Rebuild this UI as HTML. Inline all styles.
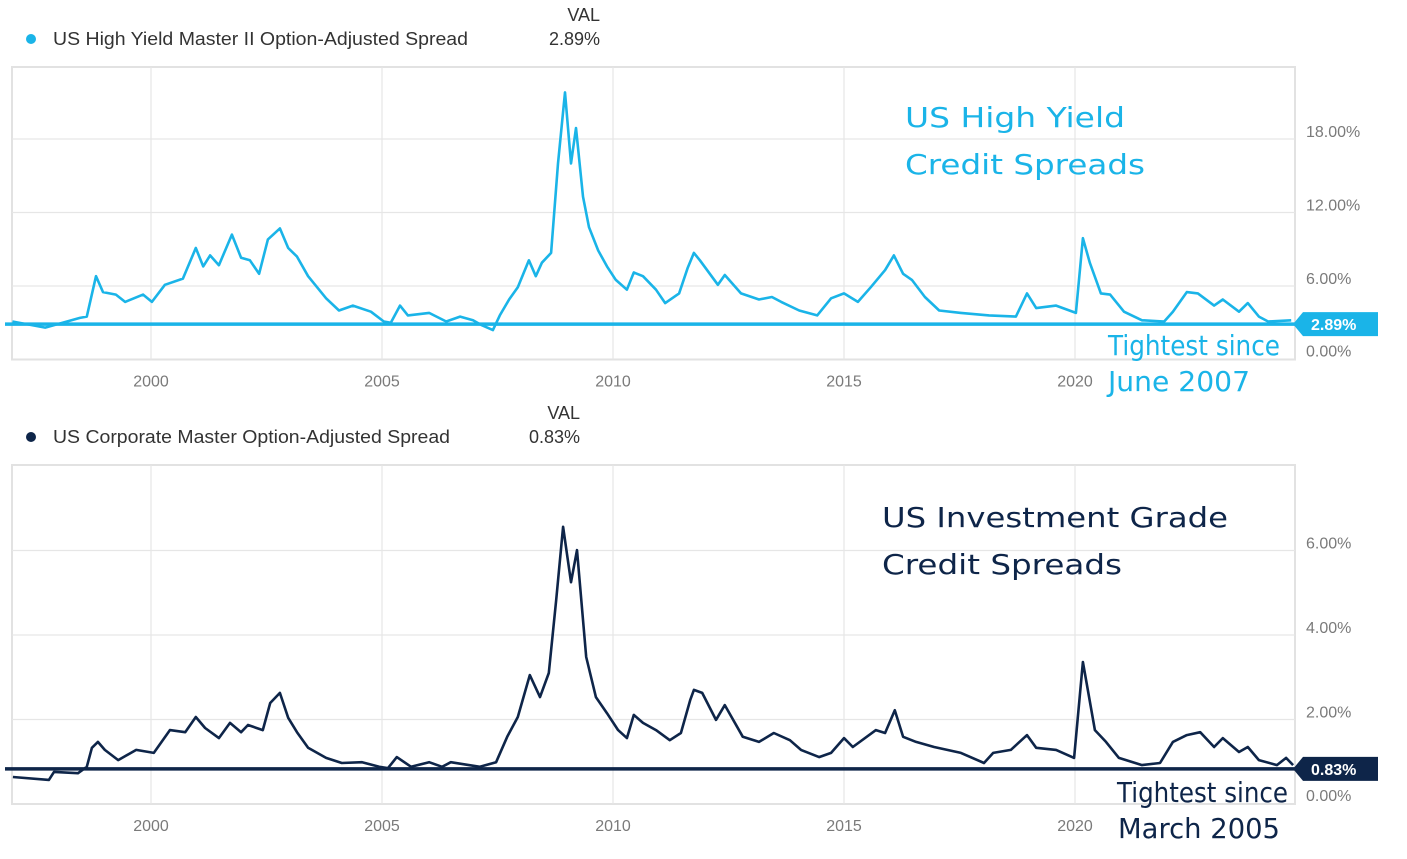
<!DOCTYPE html>
<html><head><meta charset="utf-8"><style>
html,body{margin:0;padding:0;background:#fff;}
svg{display:block;}
.ax{font-family:"Liberation Sans",sans-serif;font-size:16px;fill:#7a7a7a;}
.lg{font-family:"Liberation Sans",sans-serif;font-size:18px;fill:#333;}
.hw{font-family:"DejaVu Sans",sans-serif;font-size:28px;}
</style></head><body>
<svg id="chart" width="1407" height="859" viewBox="0 0 1407 859">
<g id="top"></g>
<g id="bot"></g>
</svg>
<script>
const xTickYears=[2000,2005,2010,2015,2020];
const hyYTicks=[0,6,12,18];
const igYTicks=[0,2,4,6];
const hyYears=[1997.00,1997.71,1998.46,1998.61,1998.81,1998.96,1999.24,1999.44,1999.83,2000.02,2000.30,2000.69,2000.97,2001.13,2001.28,2001.47,2001.75,2001.95,2002.14,2002.34,2002.53,2002.79,2002.97,2003.16,2003.40,2003.79,2004.07,2004.37,2004.76,2005.04,2005.19,2005.39,2005.56,2006.02,2006.39,2006.69,2006.97,2007.16,2007.40,2007.55,2007.75,2007.94,2008.18,2008.33,2008.46,2008.66,2008.81,2008.96,2009.09,2009.20,2009.35,2009.48,2009.68,2009.87,2010.06,2010.30,2010.45,2010.65,2010.93,2011.13,2011.43,2011.62,2011.75,2011.88,2012.27,2012.42,2012.77,2013.16,2013.44,2013.64,2014.03,2014.42,2014.72,2015.00,2015.30,2015.58,2015.89,2016.08,2016.28,2016.47,2016.75,2017.06,2017.53,2018.14,2018.72,2018.96,2019.16,2019.59,2020.02,2020.17,2020.32,2020.56,2020.76,2021.06,2021.45,2021.93,2022.12,2022.42,2022.66,2023.01,2023.20,2023.55,2023.74,2023.98,2024.18,2024.68];
const hyValues=[3.1,2.6,3.4,3.5,6.8,5.5,5.3,4.7,5.3,4.7,6.1,6.6,9.1,7.6,8.5,7.7,10.2,8.3,8.1,7.0,9.8,10.7,9.1,8.4,6.8,5.0,4.0,4.4,3.9,3.1,3.0,4.4,3.6,3.8,3.1,3.5,3.2,2.8,2.4,3.6,4.9,5.9,8.1,6.8,7.9,8.7,16.0,21.8,16.0,18.9,13.3,10.8,8.9,7.6,6.5,5.7,7.1,6.8,5.7,4.6,5.4,7.5,8.7,8.1,6.1,6.9,5.4,4.9,5.1,4.7,4.0,3.6,5.0,5.4,4.7,5.9,7.3,8.5,7.0,6.5,5.1,4.0,3.8,3.6,3.5,5.4,4.2,4.4,3.8,9.9,7.9,5.4,5.3,3.9,3.2,3.1,3.9,5.5,5.4,4.4,4.9,3.9,4.6,3.5,3.1,3.2];
const igYears=[1997.01,1997.79,1997.90,1998.42,1998.61,1998.72,1998.85,1999.00,1999.29,1999.68,2000.06,2000.41,2000.74,2000.97,2001.17,2001.47,2001.71,2001.95,2002.10,2002.42,2002.58,2002.79,2002.97,2003.16,2003.40,2003.79,2004.13,2004.57,2004.94,2005.13,2005.32,2005.63,2006.02,2006.30,2006.49,2007.12,2007.47,2007.71,2007.94,2008.20,2008.42,2008.61,2008.77,2008.92,2009.09,2009.22,2009.42,2009.63,2009.87,2010.11,2010.30,2010.45,2010.65,2010.93,2011.23,2011.47,2011.67,2011.75,2011.93,2012.23,2012.42,2012.81,2013.16,2013.48,2013.83,2014.07,2014.46,2014.72,2015.00,2015.19,2015.69,2015.89,2016.10,2016.28,2016.56,2016.95,2017.53,2018.03,2018.23,2018.61,2018.96,2019.16,2019.59,2019.98,2020.17,2020.43,2020.67,2020.95,2021.45,2021.84,2022.12,2022.42,2022.71,2023.01,2023.20,2023.55,2023.74,2023.98,2024.37,2024.57,2024.72];
const igValues=[0.64,0.57,0.76,0.73,0.88,1.33,1.47,1.28,1.04,1.28,1.21,1.75,1.70,2.06,1.80,1.56,1.92,1.70,1.87,1.75,2.39,2.63,2.04,1.70,1.33,1.09,0.97,0.99,0.88,0.85,1.11,0.88,0.99,0.88,0.99,0.88,0.99,1.59,2.06,3.05,2.53,3.10,4.83,6.56,5.25,6.01,3.48,2.53,2.15,1.75,1.56,2.11,1.92,1.75,1.51,1.68,2.46,2.70,2.63,1.99,2.34,1.59,1.47,1.68,1.51,1.28,1.11,1.21,1.56,1.35,1.75,1.68,2.22,1.59,1.47,1.35,1.21,0.97,1.21,1.28,1.63,1.33,1.28,1.09,3.36,1.75,1.47,1.09,0.92,0.97,1.47,1.63,1.70,1.35,1.56,1.23,1.35,1.04,0.92,1.09,0.92];
const hyCurrent=[2.89];
const igCurrent=[0.83];

const NS='http://www.w3.org/2000/svg';
function mk(parent,tag,attrs,text){const e=document.createElementNS(NS,tag);for(const k in attrs)e.setAttribute(k,attrs[k]);if(text!=null)e.textContent=text;parent.appendChild(e);return e;}
const xS=y=>151+46.2*(y-2000);
const L=12,R=1295;

function panel(g,cfg){
  const yS=v=>cfg.bottom-v*cfg.ppu;
  let e;
  e=mk(g,'rect',{x:L,y:cfg.top,width:R-L,height:cfg.bottom-cfg.top,fill:'none',stroke:'#e2e2e2','stroke-width':2});
  
  
  xTickYears.forEach(yr=>{
    e=mk(g,'line',{x1:xS(yr),x2:xS(yr),y1:cfg.top,y2:cfg.bottom,stroke:'#e6e6e6','stroke-width':1.2});
    
    
    e=mk(g,'text',{x:xS(yr),y:cfg.bottom+27,'text-anchor':'middle',class:'ax'},String(yr));
    
    
  });
  cfg.yTicks.forEach(v=>{
    if(v>0){
      e=mk(g,'line',{x1:L,x2:R,y1:yS(v),y2:yS(v),stroke:'#e6e6e6','stroke-width':1.2});
      
      
    }
    e=mk(g,'text',{x:1306,y:yS(v)-(v===0?3:2),class:'ax'},v.toFixed(2)+'%');
    
    
  });
  let d='';
  cfg.years.forEach((yr,i)=>{d+=(i?'L':'M')+xS(yr).toFixed(1)+','+yS(cfg.values[i]).toFixed(1);});
  e=mk(g,'path',{d:d,fill:'none',stroke:cfg.color,'stroke-width':2.6,'stroke-linejoin':'round'});
  
  
  const cy=yS(cfg.current[0]);
  e=mk(g,'line',{x1:5,x2:1296,y1:cy,y2:cy,stroke:cfg.color,'stroke-width':3.5});
  
  
  e=mk(g,'polygon',{points:`1293,${cy} 1303,${cy-12} 1378,${cy-12} 1378,${cy+12} 1303,${cy+12}`,fill:cfg.color});
  
  
  e=mk(g,'text',{x:1311,y:cy+6,fill:'#fff','font-family':'Liberation Sans,sans-serif','font-size':16,'font-weight':'bold'},cfg.current[0].toFixed(2)+'%');
  
  
  e=mk(g,'circle',{cx:31,cy:cfg.legY-6,r:5,fill:cfg.color});
  
  
  e=mk(g,'text',{x:53,y:cfg.legY,class:'lg',textLength:cfg.legW,lengthAdjust:'spacingAndGlyphs'},cfg.legend);
  
  
  e=mk(g,'text',{x:cfg.valX,y:cfg.legY-24,class:'lg','text-anchor':'end'},'VAL');
  
  
  e=mk(g,'text',{x:cfg.valX,y:cfg.legY,class:'lg','text-anchor':'end'},cfg.current[0].toFixed(2)+'%');
  
  
  cfg.notes.forEach(n=>{
    e=mk(g,'text',{x:n[0],y:n[1],class:'hw',fill:cfg.color,'font-size':n[4],textLength:n[3],lengthAdjust:'spacingAndGlyphs'},n[2]);
    
    
  });
}
panel(document.getElementById('top'),{top:67,bottom:359.5,ppu:12.25,yTicks:hyYTicks,years:hyYears,values:hyValues,current:hyCurrent,color:'#1ab4e8',
  legY:45,legend:'US High Yield Master II Option-Adjusted Spread',legW:415,valX:600,
  notes:[[905,127,'US High Yield',220,30],[905,174,'Credit Spreads',240,30],[1108,355,'Tightest since',172,24],[1108,391,'June 2007',142,24]]});
panel(document.getElementById('bot'),{top:465,bottom:804,ppu:42.25,yTicks:igYTicks,years:igYears,values:igValues,current:igCurrent,color:'#0e2549',
  legY:443,legend:'US Corporate Master Option-Adjusted Spread',legW:397,valX:580,
  notes:[[882,527,'US Investment Grade',346,30],[882,574,'Credit Spreads',240,30],[1117,802,'Tightest since',171,24],[1118,838,'March 2005',162,24]]});
</script>
</body></html>
